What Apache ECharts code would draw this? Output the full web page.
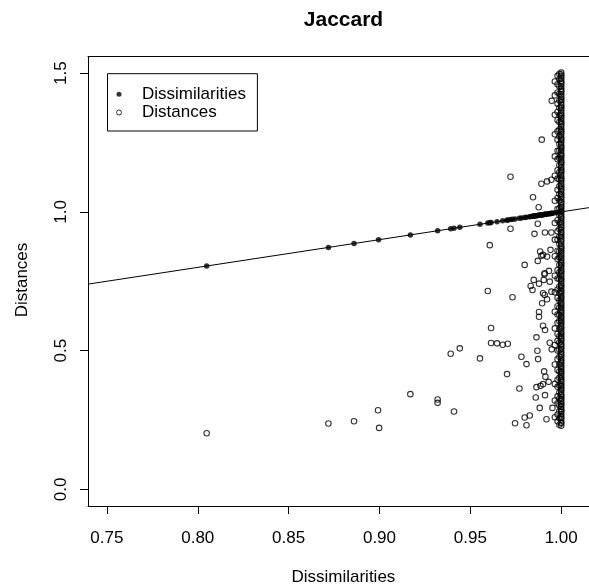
<!DOCTYPE html>
<html><head><meta charset="utf-8">
<script src="https://cdn.jsdelivr.net/npm/echarts@6/dist/echarts.min.js"></script>
<style>html,body{margin:0;padding:0;background:#fff}#c{width:589px;height:587px}</style>
</head><body><div id="c"></div>
<script>
// ---- data ----
const xTicks = [0.75, 0.80, 0.85, 0.90, 0.95, 1.00];
const yTicks = [0.0, 0.5, 1.0, 1.5];

// filled dots (dissimilarities plotted on the fitted line)
const dotX = [0.8049,0.8719,0.886,0.8995,0.917,0.932,0.9392,0.941,0.9442,0.9553,0.9596,0.9607,0.9614,0.9647,0.9678,0.9702,0.9706,0.9721,0.9732,0.9746,0.977,0.9781,0.9799,0.9809,0.9827,0.9832,0.9842,0.9845,0.9849,0.9853,0.986,0.9864,0.9869,0.9871,0.9876,0.9878,0.9882,0.9886,0.9891,0.9893,0.9895,0.99,0.9904,0.9908,0.9911,0.9913,0.9919,0.9922,0.9931,0.9937,0.9941,0.9946,0.9948,0.9952,0.9965,0.998,1.0];
const dotY = [0.8049,0.8719,0.886,0.8995,0.917,0.932,0.9392,0.941,0.9442,0.9553,0.9596,0.9607,0.9614,0.9647,0.9678,0.9702,0.9706,0.9721,0.9732,0.9746,0.977,0.9781,0.9799,0.9809,0.9827,0.9832,0.9842,0.9845,0.9849,0.9853,0.986,0.9864,0.9869,0.9871,0.9876,0.9878,0.9882,0.9886,0.9891,0.9893,0.9895,0.99,0.9904,0.9908,0.9911,0.9913,0.9919,0.9922,0.9931,0.9937,0.9941,0.9946,0.9948,0.9952,0.9965,0.998,1.0];

// open circles away from the x = 1 column
const distX = [0.8049,0.8719,0.886,0.8992,0.8998,0.917,0.932,0.932,0.941,0.9392,0.9442,0.9553,0.9614,0.9614,0.9647,0.9596,0.9607,0.9678,0.9706,0.9721,0.9721,0.9732,0.9702,0.977,0.9781,0.9809,0.9799,0.9746,0.9799,0.9809,0.9827,0.9845,0.9876,0.9893,0.9948,0.9891,0.9922,0.9946,0.9871,0.9853,0.9911,0.9946,0.9884,0.99,0.9922,0.9891,0.9871,0.9941,0.9832,0.9849,0.9909,0.9904,0.9878,0.9842,0.9937,0.9908,0.9933,0.99,0.9909,0.9946,0.9922,0.9895,0.9878,0.9878,0.99,0.9911,0.9864,0.9937,0.9948,0.9869,0.9873,0.9906,0.9913,0.9931,0.99,0.9864,0.9886,0.986,0.9911,0.9882,0.9952,0.9919];
const distY = [0.2022,0.2372,0.2456,0.2853,0.2214,0.3431,0.3239,0.3117,0.2806,0.4886,0.5081,0.472,0.5814,0.5273,0.5262,0.715,0.8801,0.5211,0.5247,0.939,1.1268,0.6923,0.4153,0.3637,0.4778,0.4514,0.809,0.2383,0.2589,0.2311,0.2662,1.0527,1.0166,1.2604,1.4001,1.1015,1.1098,1.116,0.957,0.9209,0.9256,0.9256,0.857,0.845,0.8389,0.8415,0.8234,0.8631,0.7331,0.7548,0.779,0.7548,0.7414,0.7187,0.7486,0.7754,0.7873,0.7068,0.7006,0.7125,0.6851,0.6706,0.6392,0.6222,0.5897,0.5742,0.5478,0.5283,0.5045,0.4994,0.4695,0.4251,0.4056,0.3875,0.3792,0.3684,0.3731,0.3312,0.3395,0.2936,0.2936,0.2528];

// open circles in the dense column at dissimilarity 1.0 (and just below)
const col100 = [0.229,0.238,0.241,0.252,0.258,0.263,0.271,0.279,0.284,0.29,0.298,0.306,0.309,0.318,0.325,0.331,0.338,0.343,0.352,0.359,0.364,0.372,0.377,0.386,0.392,0.399,0.405,0.413,0.42,0.426,0.434,0.441,0.447,0.455,0.462,0.468,0.476,0.483,0.489,0.497,0.506,0.511,0.519,0.524,0.533,0.54,0.546,0.553,0.561,0.567,0.575,0.582,0.589,0.597,0.603,0.61,0.618,0.624,0.633,0.639,0.646,0.654,0.661,0.668,0.674,0.683,0.69,0.696,0.704,0.711,0.717,0.726,0.733,0.739,0.748,0.755,0.761,0.769,0.777,0.784,0.79,0.799,0.806,0.813,0.818,0.827,0.835,0.842,0.849,0.857,0.864,0.871,0.876,0.885,0.893,0.9,0.908,0.914,0.922,0.927,0.936,0.944,0.951,0.959,0.965,0.973,0.98,0.986,0.994,1.002,1.009,1.017,1.023,1.031,1.036,1.045,1.053,1.06,1.066,1.074,1.082,1.089,1.095,1.103,1.112,1.118,1.124,1.132,1.141,1.147,1.153,1.161,1.17,1.176,1.182,1.19,1.199,1.205,1.211,1.22,1.228,1.234,1.24,1.249,1.257,1.263,1.269,1.278,1.286,1.292,1.298,1.307,1.315,1.321,1.327,1.336,1.344,1.35,1.356,1.365,1.373,1.379,1.385,1.394,1.402,1.408,1.414,1.423,1.431,1.437,1.443,1.452,1.46,1.466,1.472,1.481,1.489,1.495,1.502];
const col999 = [0.233,0.256,0.281,0.302,0.327,0.349,0.374,0.402,0.425,0.451,0.478,0.503,0.529,0.552,0.578,0.607,0.629,0.655,0.681,0.708,0.731,0.758,0.782,0.809,0.836,0.858,0.884,0.911,0.938,0.962,0.989,1.013,1.041,1.064,1.092,1.117,1.143,1.168,1.194,1.221,1.245,1.272,1.297,1.324,1.348,1.375,1.401,1.426,1.452,1.478,1.497];
const col998 = [0.245,0.27,0.31,0.335,0.37,0.395,0.43,0.47,0.5,0.535,0.56,0.6,0.63,0.66,0.69,0.72,0.76,0.79,0.83,0.86,0.9,0.93,0.97,1.01,1.05,1.08,1.12,1.15,1.19,1.22,1.26,1.29,1.33,1.36,1.39,1.43,1.46,1.49];
const col996 = [0.26,0.32,0.38,0.45,0.52,0.58,0.64,0.71,0.77,0.84,0.9,0.96,1.04,1.13,1.2,1.28,1.35,1.42,1.47];

// fitted line, read at the left and right plot edges
const fitLine = [[0.7396, 0.7396], [1.0153, 1.0153]];

// ---- chart ----
const FONT = 'Liberation Sans, Arial, sans-serif';
const openData = distX.map((x, i) => [x, distY[i]])
  .concat(col100.map(v => [1.0, v]))
  .concat(col999.map(v => [0.999, v]))
  .concat(col998.map(v => [0.998, v]))
  .concat(col996.map(v => [0.9965, v]));
const dotData = dotX.map((x, i) => [x, dotY[i]]);

const chart = echarts.init(document.getElementById('c'), null, {renderer: 'canvas'});
chart.setOption({
  animation: false,
  backgroundColor: '#fff',
  title: {
    text: 'Jaccard', left: 343.5, top: 9.5, textAlign: 'center', padding: 0,
    textStyle: {fontFamily: FONT, fontWeight: 'bold', fontSize: 21, color: '#000'}
  },
  legend: {
    orient: 'vertical', left: 107.5, top: 73.7,
    padding: [12, 11.5, 10, 8.5], itemGap: 1.3,
    itemWidth: 10, itemHeight: 5,
    borderColor: '#000', borderWidth: 1, borderRadius: 0,
    textStyle: {fontFamily: FONT, fontSize: 17, color: '#000', padding: [0, 0, 0, 13]},
    data: [
      {name: 'Dissimilarities', icon: 'circle', itemStyle: {color: '#000', borderWidth: 0}},
      {name: 'Distances', icon: 'circle', itemStyle: {color: 'rgba(0,0,0,0)', borderColor: '#000', borderWidth: 1}}
    ],
    selectedMode: false
  },
  grid: {left: 88, top: 56.5, right: 0, bottom: 81, containLabel: false},
  xAxis: [{
    type: 'value', min: 0.7396, max: 1.0153,
    axisLine: {show: true, onZero: false, lineStyle: {color: '#000', width: 1}},
    axisTick: {show: true, length: 8, customValues: xTicks, lineStyle: {color: '#000'}},
    axisLabel: {customValues: xTicks, margin: 24, fontFamily: FONT, fontSize: 17, color: '#000',
      formatter: v => v.toFixed(2), showMinLabel: true, showMaxLabel: true},
    splitLine: {show: false}
  }, {
    type: 'value', position: 'top', min: 0.7396, max: 1.0153,
    axisLine: {show: true, onZero: false, lineStyle: {color: '#000', width: 1}},
    axisTick: {show: false}, axisLabel: {show: false}, splitLine: {show: false}
  }],
  yAxis: [{
    type: 'value', min: -0.06, max: 1.56,
    axisLine: {show: true, onZero: false, lineStyle: {color: '#000', width: 1}},
    axisTick: {show: true, length: 8, customValues: yTicks, lineStyle: {color: '#000'}},
    axisLabel: {customValues: yTicks, rotate: 90, margin: 18.5, fontFamily: FONT, fontSize: 17, color: '#000',
      formatter: v => v.toFixed(1)},
    splitLine: {show: false}
  }],
  graphic: [
    {type: 'text', x: 343.4, y: 577.5, style: {text: 'Dissimilarities', font: '17px ' + FONT, fill: '#000', textAlign: 'center', textVerticalAlign: 'middle'}},
    {type: 'text', x: 22.5, y: 280, rotation: Math.PI / 2, style: {text: 'Distances', font: '17px ' + FONT, fill: '#000', textAlign: 'center', textVerticalAlign: 'middle'}}
  ],
  series: [
    {name: 'Fit', type: 'line', data: fitLine, showSymbol: false, symbol: 'none', silent: true,
      lineStyle: {color: '#000', width: 1}, z: 1},
    {name: 'Dissimilarities', type: 'scatter', data: dotData, symbol: 'circle', symbolSize: 5.5,
      itemStyle: {color: '#000'}, silent: true, z: 3},
    {name: 'Distances', type: 'scatter', data: openData, symbol: 'circle', symbolSize: 5.5,
      itemStyle: {color: 'rgba(0,0,0,0)', borderColor: '#000', borderWidth: 1.1}, silent: true, z: 2}
  ]
});
</script></body></html>
